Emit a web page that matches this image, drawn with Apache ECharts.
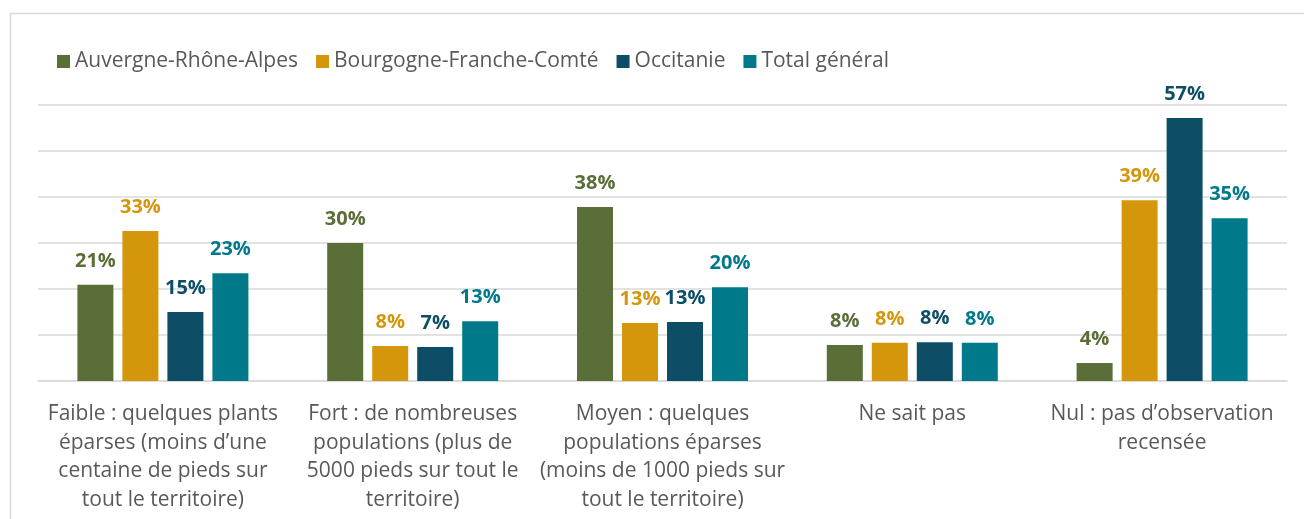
<!DOCTYPE html>
<html style="height: 100%">
<head>
    <meta charset="utf-8">
</head>
<body style="height: 100%; margin: 0; background: #fff">
<div id="container" style="width: 1304px; height: 519px"></div>
<script src="https://cdn.jsdelivr.net/npm/echarts@6/dist/echarts.min.js"></script>
<script>
    // categories (line breaks as in the source chart)
    var categories = [
        'Faible : quelques plants\néparses (moins d\u2019une\ncentaine de pieds sur\ntout le territoire)',
        'Fort : de nombreuses\npopulations (plus de\n5000 pieds sur tout le\nterritoire)',
        'Moyen : quelques\npopulations éparses\n(moins de 1000 pieds sur\ntout le territoire)',
        'Ne sait pas',
        'Nul : pas d\u2019observation\nrecensée'
    ];
    var seriesNames = ['Auvergne-Rhône-Alpes', 'Bourgogne-Franche-Comté', 'Occitanie', 'Total général'];
    var aura = [20.9, 30.0, 37.8, 7.8, 3.9];
    var bfc = [32.6, 7.6, 12.6, 8.3, 39.3];
    var occitanie = [15.0, 7.4, 12.8, 8.4, 57.2];
    var total = [23.4, 13.0, 20.4, 8.3, 35.4];
    var colors = ['#5a6e37', '#d4970b', '#0d4d66', '#007a8a'];

    var font = '"Open Sans", sans-serif';
    var dom = document.getElementById('container');
    var myChart = echarts.init(dom);

    var allData = [aura, bfc, occitanie, total];
    var series = [];
    for (var i = 0; i < seriesNames.length; i++) {
        series.push({
            name: seriesNames[i],
            type: 'bar',
            data: allData[i],
            barWidth: 36,
            barGap: '25%',
            itemStyle: {color: colors[i]},
            label: {
                show: true,
                position: 'top',
                distance: 14,
                color: colors[i],
                fontFamily: font,
                fontWeight: 'bold',
                fontSize: 20,
                formatter: function (p) { return Math.round(p.value) + '%'; }
            }
        });
    }

    var option = {
        animation: false,
        color: colors,
        graphic: [{
            type: 'rect',
            shape: {x: 10.5, y: 13.5, width: 1400, height: 600},
            style: {fill: 'none', stroke: '#d9d9d9', lineWidth: 1.5},
            silent: true
        }],
        legend: {
            left: 52,
            top: 46,
            itemWidth: 13,
            itemHeight: 13,
            itemGap: 18,
            icon: 'rect',
            textStyle: {color: '#595959', fontFamily: font, fontSize: 21}
        },
        grid: {left: 38, right: 17, top: 105, bottom: 138},
        xAxis: {
            type: 'category',
            data: categories,
            axisTick: {show: false},
            axisLine: {lineStyle: {color: '#d9d9d9', width: 1.5}},
            axisLabel: {
                color: '#595959',
                fontFamily: font,
                fontSize: 21,
                lineHeight: 28.5,
                margin: 19,
                interval: 0
            }
        },
        yAxis: {
            type: 'value',
            min: 0,
            max: 60,
            interval: 10,
            axisLabel: {show: false},
            splitLine: {lineStyle: {color: '#d9d9d9', width: 1.5}}
        },
        series: series
    };
    myChart.setOption(option, true);
</script>
</body>
</html>
